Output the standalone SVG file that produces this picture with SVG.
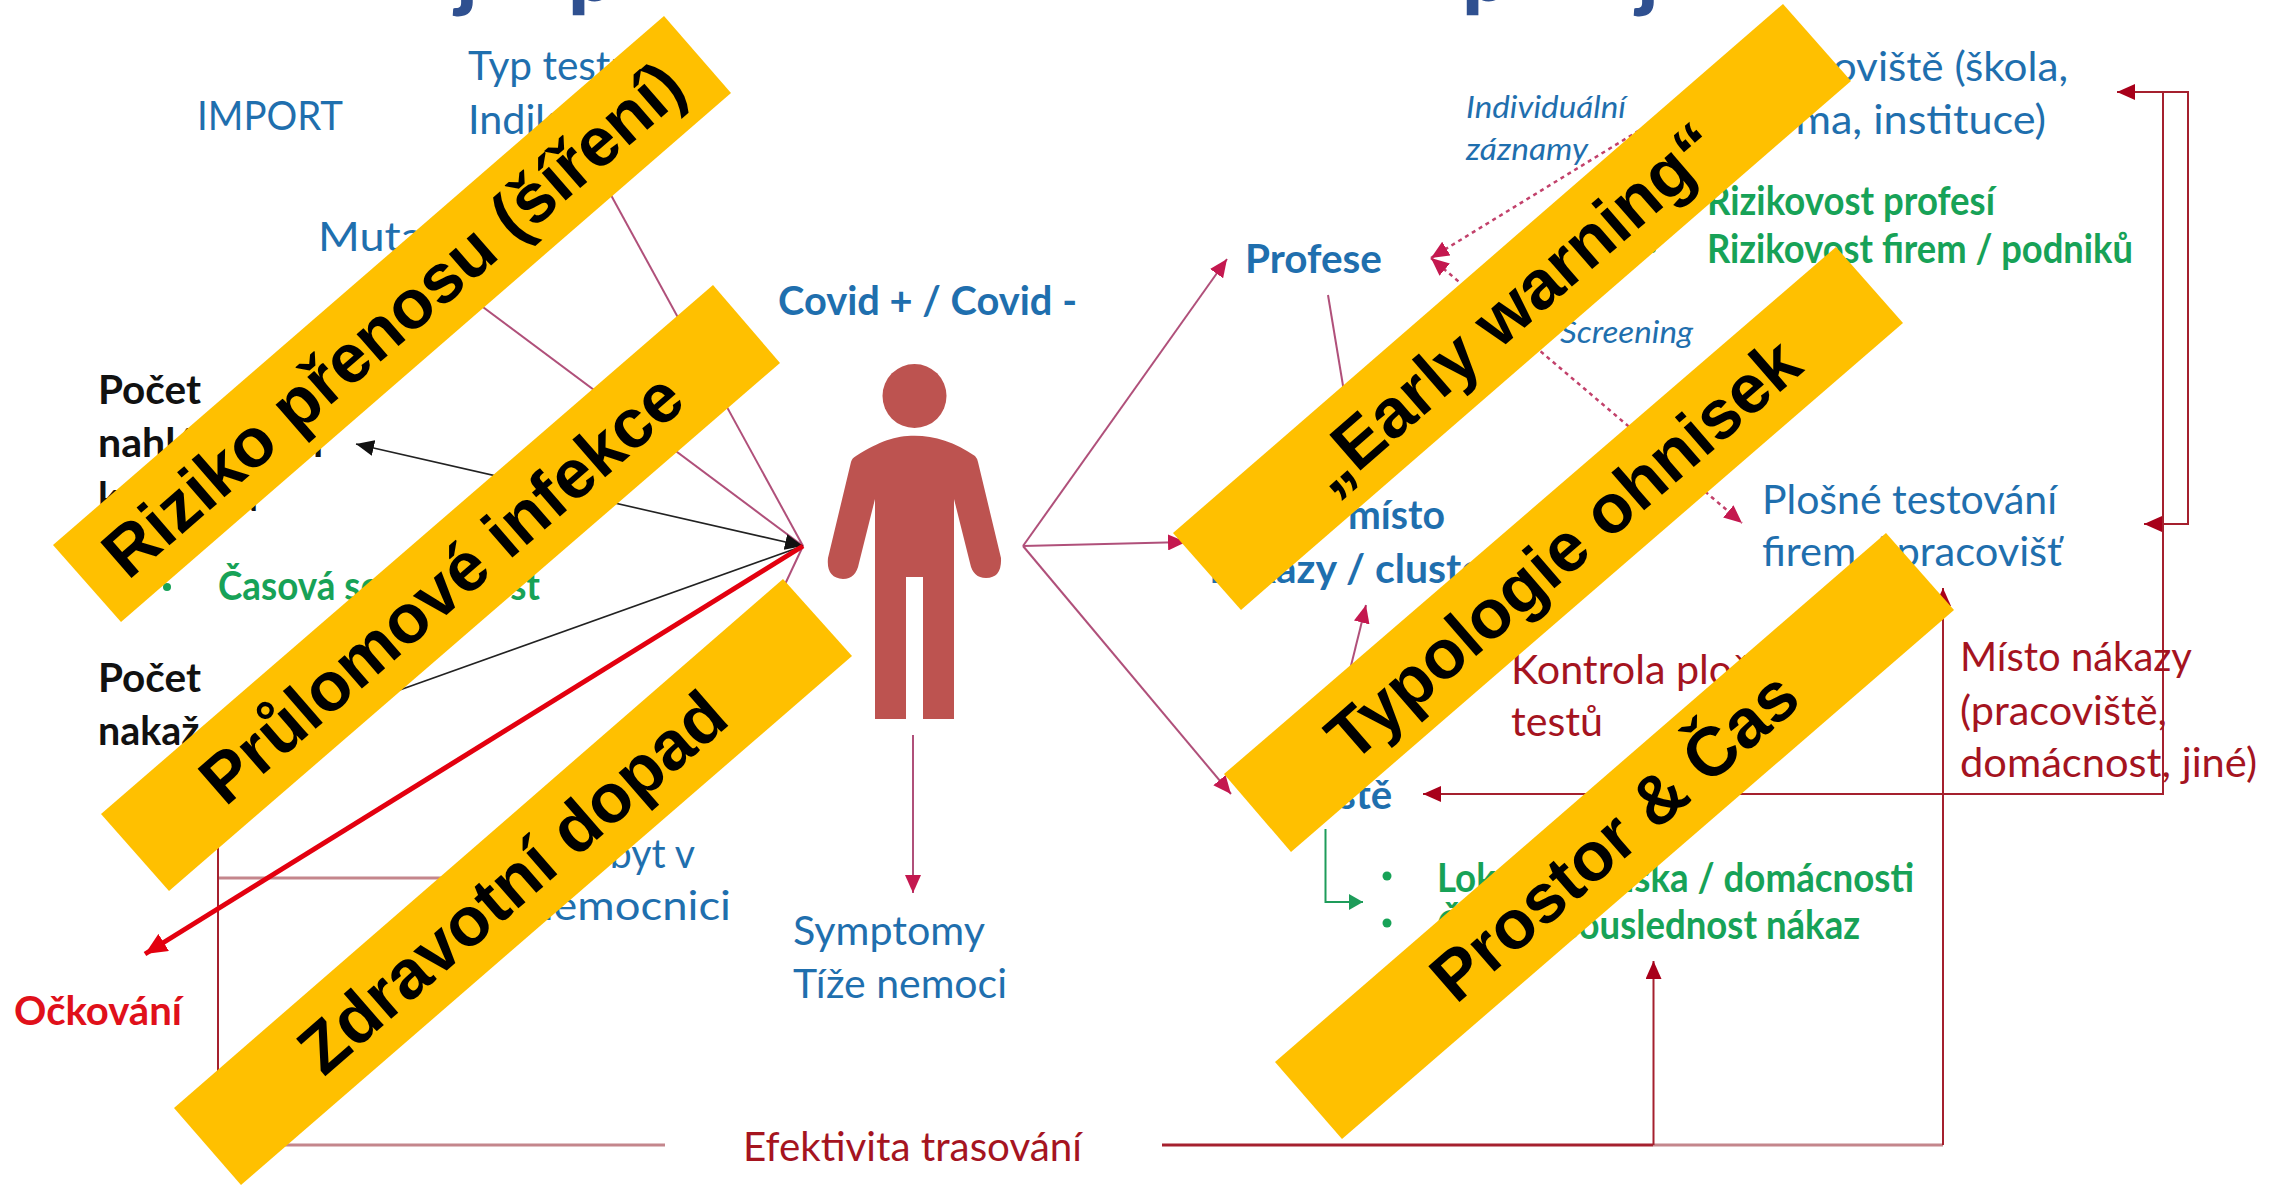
<svg xmlns="http://www.w3.org/2000/svg" width="2285" height="1186" viewBox="0 0 2285 1186">
<style>
text{font-family:Lato,"Noto Sans","Liberation Sans",sans-serif;font-size:40px;fill:#1f6fae}
.b{font-weight:700}
.i{font-style:italic;font-size:31px}
.k{fill:#111}
.g{fill:#17a257;font-weight:700}
.r{fill:#a5141f}
.v{fill:#e0101a;font-weight:700}
.t{fill:#2f5090;font-weight:900;font-size:84px}
.ban polygon{fill:#ffc000}
.ban text{font-family:"Liberation Sans",Arial,sans-serif;font-size:69px;font-weight:700;fill:#000;text-anchor:middle}
.c{fill:none;stroke:#b0507a;stroke-width:2}
.dr{fill:none;stroke:#a5202e;stroke-width:2}
.pale{fill:none;stroke:#c4868c;stroke-width:3}
.bk{fill:none;stroke:#222;stroke-width:1.6}
.d{fill:none;stroke:#c2416b;stroke-width:2.500;stroke-dasharray:4 4}
</style>
<defs>
<marker id="mc" markerUnits="userSpaceOnUse" markerWidth="20" markerHeight="16" refX="18" refY="8" orient="auto-start-reverse"><path d="M0 0L18 8L0 16z" fill="#c4184f"/></marker>
<marker id="mr" markerUnits="userSpaceOnUse" markerWidth="20" markerHeight="16" refX="18" refY="8" orient="auto-start-reverse"><path d="M0 0L18 8L0 16z" fill="#a8001a"/></marker>
<marker id="mk" markerUnits="userSpaceOnUse" markerWidth="20" markerHeight="16" refX="18" refY="8" orient="auto-start-reverse"><path d="M0 0L18 8L0 16z" fill="#111"/></marker>
<marker id="mv" markerUnits="userSpaceOnUse" markerWidth="24" markerHeight="20" refX="22" refY="10" orient="auto"><path d="M0 0L22 10L0 20z" fill="#e3000f"/></marker>
<marker id="mg" markerUnits="userSpaceOnUse" markerWidth="20" markerHeight="16" refX="18" refY="8" orient="auto"><path d="M4 0L18 8L4 16z" fill="#1e9c5a"/></marker>
</defs>
<rect width="2285" height="1186" fill="#fff"/>
<g id="title">
<text class="t" x="456" y="1">j</text><text class="t" x="568" y="1">p</text><text class="t" x="1462" y="1">p</text><text class="t" x="1637" y="1">j</text>
</g>
<g id="connectors">
<path class="c" d="M600 175L803 546"/>
<path class="c" d="M440 275L803 546"/>
<path class="c" d="M803 546L740 680"/>
<path class="bk" marker-start="url(#mk)" marker-end="url(#mk)" d="M356 444L803 546"/>
<path class="bk" d="M380 697L803 546"/>
<path class="c" marker-end="url(#mc)" d="M1023 546L1227 259"/>
<path class="c" marker-end="url(#mc)" d="M1023 546L1186 542"/>
<path class="c" marker-end="url(#mc)" d="M1023 546L1231 794"/>
<path class="c" marker-end="url(#mc)" d="M913 735V893"/>
<path class="c" d="M1328 295L1352 440"/>
<path class="c" marker-end="url(#mc)" d="M1345 690L1366 605"/>
<path d="M1325.500 829V902H1363" fill="none" stroke="#1e9c5a" stroke-width="2" marker-end="url(#mg)"/>
<path class="d" marker-start="url(#mc)" d="M1431 258L1640 130"/>
<path class="d" marker-start="url(#mc)" marker-end="url(#mc)" d="M1431 258L1742 523"/>
<path class="dr" marker-end="url(#mr)" d="M2163 92V794H1423"/>
<path class="dr" marker-end="url(#mr)" d="M2163 92H2117"/>
<path class="dr" marker-end="url(#mr)" d="M2163 92H2188V524H2144"/>
<path class="pale" d="M218 878H445"/>
<path class="dr" d="M218 760V1145" stroke="#b36070"/>
<path class="pale" d="M218 1145H665"/>
<path class="pale" d="M1653 1145H1943"/>
<path fill="none" stroke="#a5202e" stroke-width="3" d="M1162 1145H1653"/>
<path class="dr" marker-end="url(#mr)" d="M1653.500 1145V961"/>
<path class="dr" marker-end="url(#mr)" d="M1943 1145V588"/>
<path fill="none" stroke="#e3000f" stroke-width="5" marker-end="url(#mv)" d="M803 546L145 954"/>
</g>
<g id="person" fill="#bd5350">
<circle cx="914.500" cy="396" r="32"/>
<path d="M851 462Q852 458 856 456C880 441 895 435.700 914.500 435.700C935 435.700 955 442 975 456Q977 458 978 462L1001 558Q1002 578 986 578Q973 578 970 563L954 499V719H923V577H906V719H875V499L859 563Q856 579 843 579Q826 578 828 558Z"/>
</g>
<g id="node-import"><text x="197" y="130" textLength="146" lengthAdjust="spacingAndGlyphs">IMPORT</text></g>
<g id="node-typ"><text x="468" y="80" textLength="165" lengthAdjust="spacingAndGlyphs">Typ testu</text><text x="468" y="134" textLength="150" lengthAdjust="spacingAndGlyphs">Indikace</text></g>
<g id="node-mutace"><text x="318" y="251" textLength="150" lengthAdjust="spacingAndGlyphs">Mutace</text></g>
<g id="node-covid"><text class="b" x="778" y="315" textLength="299" lengthAdjust="spacingAndGlyphs">Covid + / Covid -</text></g>
<g id="node-pocet1"><text class="b k" x="98" y="404" textLength="103" lengthAdjust="spacingAndGlyphs">Počet</text><text class="b k" x="98" y="457" textLength="225" lengthAdjust="spacingAndGlyphs">nahlášených</text><text class="b k" x="98" y="511" textLength="160" lengthAdjust="spacingAndGlyphs">kontaktů</text></g>
<g id="node-casova"><circle cx="167" cy="587" r="4" fill="#17a257"/><text class="g" x="218" y="600" textLength="322" lengthAdjust="spacingAndGlyphs">Časová souslednost</text></g>
<g id="node-pocet2"><text class="b k" x="98" y="692" textLength="103" lengthAdjust="spacingAndGlyphs">Počet</text><text class="b k" x="98" y="745" textLength="205" lengthAdjust="spacingAndGlyphs">nakažených</text></g>
<g id="node-pobyt"><text x="695" y="868" text-anchor="end" textLength="130" lengthAdjust="spacingAndGlyphs">Pobyt v</text><text x="731" y="920" text-anchor="end" textLength="203" lengthAdjust="spacingAndGlyphs">nemocnici</text></g>
<g id="node-ockovani"><text class="v" x="14" y="1025" textLength="168" lengthAdjust="spacingAndGlyphs">Očkování</text></g>
<g id="node-symptomy"><text x="793" y="945" textLength="192" lengthAdjust="spacingAndGlyphs">Symptomy</text><text x="793" y="998" textLength="214" lengthAdjust="spacingAndGlyphs">Tíže nemoci</text></g>
<g id="node-efektivita"><text class="r" x="743" y="1161" textLength="339" lengthAdjust="spacingAndGlyphs">Efektivita trasování</text></g>
<g id="node-profese"><text class="b" x="1245" y="273" textLength="137" lengthAdjust="spacingAndGlyphs">Profese</text></g>
<g id="node-misto"><text class="b" x="1348" y="529" textLength="97" lengthAdjust="spacingAndGlyphs">místo</text><text class="b" x="1210" y="583" textLength="310" lengthAdjust="spacingAndGlyphs">nákazy / clustery</text></g>
<g id="node-bydliste"><text class="b" x="1392" y="809" text-anchor="end">ště</text></g>
<g id="node-individualni"><text class="i" x="1466" y="118" textLength="160" lengthAdjust="spacingAndGlyphs">Individuální</text><text class="i" x="1466" y="160" textLength="122" lengthAdjust="spacingAndGlyphs">záznamy</text></g>
<g id="node-screening"><text class="i" x="1560" y="343" textLength="133" lengthAdjust="spacingAndGlyphs">Screening</text></g>
<g id="node-pracoviste"><text x="2068" y="81" text-anchor="end" textLength="316" lengthAdjust="spacingAndGlyphs">Pracoviště (škola,</text><text x="2046" y="134" text-anchor="end" textLength="291" lengthAdjust="spacingAndGlyphs">firma, instituce)</text></g>
<g id="node-rizikovost"><circle cx="1652" cy="249" r="4" fill="#17a257"/><text class="g" x="1707" y="215" textLength="288" lengthAdjust="spacingAndGlyphs">Rizikovost profesí</text><text class="g" x="1707" y="263" textLength="426" lengthAdjust="spacingAndGlyphs">Rizikovost firem / podniků</text></g>
<g id="node-plosne"><text x="1762" y="514" textLength="295" lengthAdjust="spacingAndGlyphs">Plošné testování</text><text x="1762" y="566" textLength="300" lengthAdjust="spacingAndGlyphs">firem / pracovišť</text></g>
<g id="node-kontrola"><text class="r" x="1511" y="684" textLength="325" lengthAdjust="spacingAndGlyphs">Kontrola plošných</text><text class="r" x="1511" y="736" textLength="92" lengthAdjust="spacingAndGlyphs">testů</text></g>
<g id="node-mistonakazy"><text class="r" x="1960" y="671" textLength="232" lengthAdjust="spacingAndGlyphs">Místo nákazy</text><text class="r" x="1960" y="725" textLength="207" lengthAdjust="spacingAndGlyphs">(pracoviště,</text><text class="r" x="1960" y="777" textLength="297" lengthAdjust="spacingAndGlyphs">domácnost, jiné)</text></g>
<g id="node-lokalni"><circle cx="1387" cy="876" r="4.500" fill="#17a257"/><circle cx="1387" cy="923" r="4.500" fill="#17a257"/><text class="g" x="1437" y="892" textLength="477" lengthAdjust="spacingAndGlyphs">Lokální ohniska / domácnosti</text><text class="g" x="1437" y="939" textLength="423" lengthAdjust="spacingAndGlyphs">Časová souslednost nákaz</text></g>
<g class="ban" id="banner-riziko"><polygon points="664,16 731,93 121,622 53,545"/><text transform="translate(393 319) rotate(-41)" y="24">Riziko přenosu (šíření)</text></g>
<g class="ban" id="banner-prulomove"><polygon points="713,285 780,363 169,891 101,814"/><text transform="translate(441 588) rotate(-41)" y="24">Průlomové infekce</text></g>
<g class="ban" id="banner-zdravotni"><polygon points="783,579 852,656 241,1185 174,1108"/><text transform="translate(512 882) rotate(-41)" y="24">Zdravotní dopad</text></g>
<g class="ban" id="banner-early"><polygon points="1783,4 1851,81 1241,610 1173,533"/><text transform="translate(1512 307) rotate(-41)" y="24">„Early warning“</text></g>
<g class="ban" id="banner-typologie"><polygon points="1836,247 1903,323 1291,852 1224,774"/><text transform="translate(1563 549) rotate(-41)" y="24">Typologie ohnisek</text></g>
<g class="ban" id="banner-prostor"><polygon points="1886,533 1954,610 1342,1139 1275,1062"/><text transform="translate(1614 836) rotate(-41)" y="24">Prostor &amp; Čas</text></g>
</svg>
